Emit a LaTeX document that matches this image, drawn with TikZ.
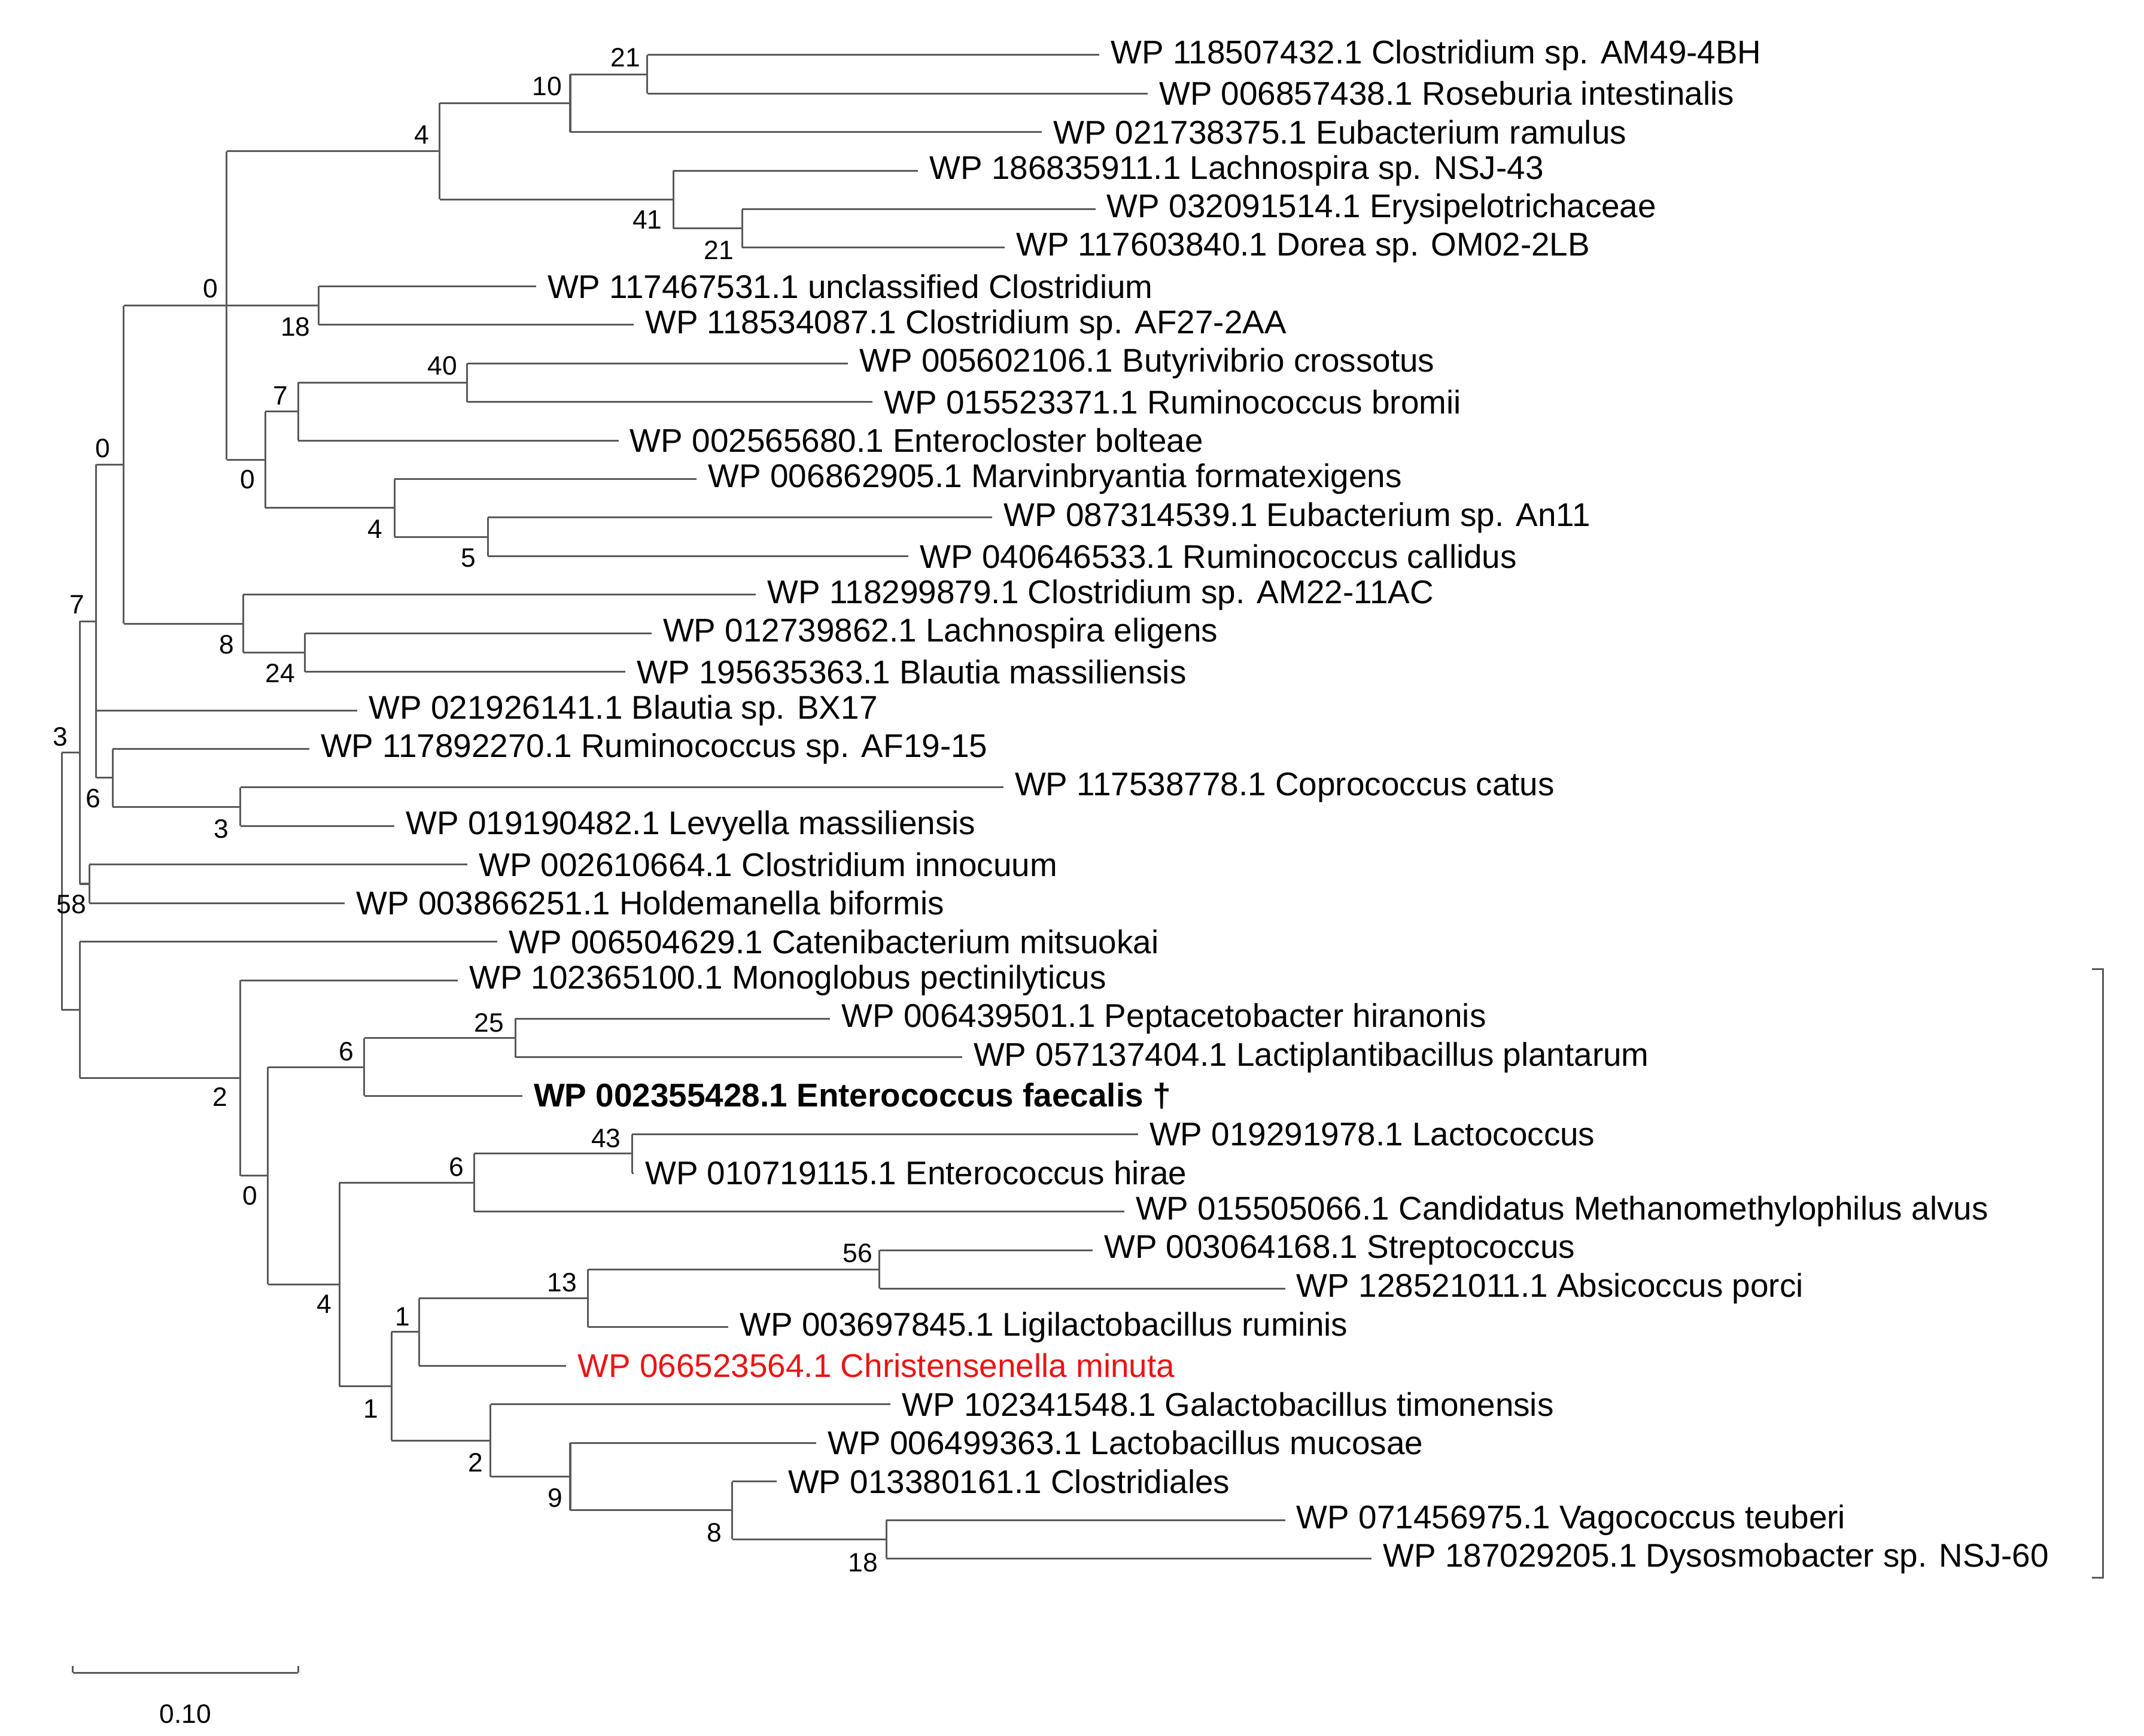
\documentclass[tikz,border=0pt]{standalone}
\usepackage{fontspec}
\setmainfont{Liberation Sans}
\usetikzlibrary{calc}
\definecolor{brc}{RGB}{90,90,90}
\definecolor{myred}{RGB}{235,20,20}
\newcommand\inode[4]{\path let \p1=(#3),\p2=(#4) in coordinate (#1) at ({#2*0.5690551pt},{(\y1+\y2)/2});}
\newcommand\kids[2]{\draw[br] (#1|-#2) -- (#2);}
\newcommand\vbar[3]{\draw[br] (#1|-#2) -- (#1|-#3);}
\newcommand\ry[1]{{40+28.05*#1}}
\begin{document}
\begin{tikzpicture}[x=0.02cm,y=-0.02cm,
  br/.style={draw=brc,line width=0.75pt},
  leaf/.style={anchor=west,inner xsep=4.6pt,inner ysep=0pt,font=\fontsize{13.6}{15}\selectfont},
  bs/.style={font=\fontsize{11}{12}\selectfont,inner sep=0pt}]
\useasboundingbox (0,0) rectangle (1560,1263);
% leaves
\node[leaf] (t0) at (800,\ry{0}) {WP 118507432.1 Clostridium sp. AM49-4BH};
\node[leaf] (t1) at (835,\ry{1}) {WP 006857438.1 Roseburia intestinalis};
\node[leaf] (t2) at (758,\ry{2}) {WP 021738375.1 Eubacterium ramulus};
\node[leaf] (t3) at (668,\ry{3}) {WP 186835911.1 Lachnospira sp. NSJ-43};
\node[leaf] (t4) at (797,\ry{4}) {WP 032091514.1 Erysipelotrichaceae};
\node[leaf] (t5) at (731,\ry{5}) {WP 117603840.1 Dorea sp. OM02-2LB};
\node[leaf] (t6) at (390,\ry{6}) {WP 117467531.1 unclassified Clostridium};
\node[leaf] (t7) at (461,\ry{7}) {WP 118534087.1 Clostridium sp. AF27-2AA};
\node[leaf] (t8) at (617,\ry{8}) {WP 005602106.1 Butyrivibrio crossotus};
\node[leaf] (t9) at (635,\ry{9}) {WP 015523371.1 Ruminococcus bromii};
\node[leaf] (t10) at (450,\ry{10}) {WP 002565680.1 Enterocloster bolteae};
\node[leaf] (t11) at (507,\ry{11}) {WP 006862905.1 Marvinbryantia formatexigens};
\node[leaf] (t12) at (722,\ry{12}) {WP 087314539.1 Eubacterium sp. An11};
\node[leaf] (t13) at (661,\ry{13}) {WP 040646533.1 Ruminococcus callidus};
\node[leaf] (t14) at (550,\ry{14}) {WP 118299879.1 Clostridium sp. AM22-11AC};
\node[leaf] (t15) at (474,\ry{15}) {WP 012739862.1 Lachnospira eligens};
\node[leaf] (t16) at (455,\ry{16}) {WP 195635363.1 Blautia massiliensis};
\node[leaf] (t17) at (260,\ry{17}) {WP 021926141.1 Blautia sp. BX17};
\node[leaf] (t18) at (225,\ry{18}) {WP 117892270.1 Ruminococcus sp. AF19-15};
\node[leaf] (t19) at (730,\ry{19}) {WP 117538778.1 Coprococcus catus};
\node[leaf] (t20) at (287,\ry{20}) {WP 019190482.1 Levyella massiliensis};
\node[leaf] (t21) at (340,\ry{21}) {WP 002610664.1 Clostridium innocuum};
\node[leaf] (t22) at (251,\ry{22}) {WP 003866251.1 Holdemanella biformis};
\node[leaf] (t23) at (362,\ry{23}) {WP 006504629.1 Catenibacterium mitsuokai};
\node[leaf] (t24) at (333,\ry{24}) {WP 102365100.1 Monoglobus pectinilyticus};
\node[leaf] (t25) at (604,\ry{25}) {WP 006439501.1 Peptacetobacter hiranonis};
\node[leaf] (t26) at (700,\ry{26}) {WP 057137404.1 Lactiplantibacillus plantarum};
\node[leaf,font=\fontsize{13.6}{15}\selectfont\bfseries] (t27) at (380,\ry{27}) {WP 002355428.1 Enterococcus faecalis †};
\node[leaf] (t28) at (828,\ry{28}) {WP 019291978.1 Lactococcus};
\node[leaf] (t29) at (461,\ry{29}) {WP 010719115.1 Enterococcus hirae};
\node[leaf] (t30) at (818,\ry{30}) {WP 015505066.1 Candidatus Methanomethylophilus alvus};
\node[leaf] (t31) at (795,\ry{31}) {WP 003064168.1 Streptococcus};
\node[leaf] (t32) at (935,\ry{32}) {WP 128521011.1 Absicoccus porci};
\node[leaf] (t33) at (530,\ry{33}) {WP 003697845.1 Ligilactobacillus ruminis};
\node[leaf,text=myred] (t34) at (412,\ry{34}) {WP 066523564.1 Christensenella minuta};
\node[leaf] (t35) at (648,\ry{35}) {WP 102341548.1 Galactobacillus timonensis};
\node[leaf] (t36) at (594,\ry{36}) {WP 006499363.1 Lactobacillus mucosae};
\node[leaf] (t37) at (565,\ry{37}) {WP 013380161.1 Clostridiales};
\node[leaf] (t38) at (935,\ry{38}) {WP 071456975.1 Vagococcus teuberi};
\node[leaf] (t39) at (998,\ry{39}) {WP 187029205.1 Dysosmobacter sp. NSJ-60};
% internal nodes
\inode{A}{471}{t0.west}{t1.west}
\inode{B}{415}{A}{t2.west}
\inode{D}{540}{t4.west}{t5.west}
\inode{C}{490}{t3.west}{D}
\inode{E}{320}{B}{C}
\inode{F}{232}{t6.west}{t7.west}
\inode{G}{340}{t8.west}{t9.west}
\inode{H}{217}{G}{t10.west}
\inode{I}{355}{t12.west}{t13.west}
\inode{J}{287}{t11.west}{I}
\inode{K}{193}{H}{J}
\inode{L}{165}{E}{K}
\inode{O}{222}{t15.west}{t16.west}
\inode{N}{177}{t14.west}{O}
\inode{M}{90}{L}{N}
\inode{R}{175}{t19.west}{t20.west}
\inode{Q}{82}{t18.west}{R}
\inode{P}{70}{M}{Q}
\inode{T}{65}{t21.west}{t22.west}
\inode{S}{58}{P}{T}
\inode{Y}{375}{t25.west}{t26.west}
\inode{Z}{265}{Y}{t27.west}
\inode{a}{460}{t28.west}{t29.west}
\inode{b}{345}{a}{t30.west}
\inode{c}{640}{t31.west}{t32.west}
\inode{d}{428}{c}{t33.west}
\inode{e}{305}{d}{t34.west}
\inode{f}{645}{t38.west}{t39.west}
\inode{g}{533}{t37.west}{f}
\inode{h}{415}{t36.west}{g}
\inode{i}{357}{t35.west}{h}
\inode{j}{285}{e}{i}
\inode{k}{247}{b}{j}
\inode{X}{195}{Z}{k}
\inode{W}{175}{t24.west}{X}
\inode{V}{58}{t23.west}{W}
\inode{root}{45}{S}{V}
% branches
\vbar{A}{t0.west}{t1.west}\kids{A}{t0.west}\kids{A}{t1.west}
\vbar{B}{A}{t2.west}\kids{B}{A}\kids{B}{t2.west}
\vbar{D}{t4.west}{t5.west}\kids{D}{t4.west}\kids{D}{t5.west}
\vbar{C}{t3.west}{D}\kids{C}{t3.west}\kids{C}{D}
\vbar{E}{B}{C}\kids{E}{B}\kids{E}{C}
\vbar{F}{t6.west}{t7.west}\kids{F}{t6.west}\kids{F}{t7.west}
\vbar{G}{t8.west}{t9.west}\kids{G}{t8.west}\kids{G}{t9.west}
\vbar{H}{G}{t10.west}\kids{H}{G}\kids{H}{t10.west}
\vbar{I}{t12.west}{t13.west}\kids{I}{t12.west}\kids{I}{t13.west}
\vbar{J}{t11.west}{I}\kids{J}{t11.west}\kids{J}{I}
\vbar{K}{H}{J}\kids{K}{H}\kids{K}{J}
\vbar{L}{E}{K}\kids{L}{E}\kids{L}{F}\kids{L}{K}
\vbar{O}{t15.west}{t16.west}\kids{O}{t15.west}\kids{O}{t16.west}
\vbar{N}{t14.west}{O}\kids{N}{t14.west}\kids{N}{O}
\vbar{M}{L}{N}\kids{M}{L}\kids{M}{N}
\vbar{R}{t19.west}{t20.west}\kids{R}{t19.west}\kids{R}{t20.west}
\vbar{Q}{t18.west}{R}\kids{Q}{t18.west}\kids{Q}{R}
\vbar{P}{M}{Q}\kids{P}{M}\kids{P}{t17.west}\kids{P}{Q}
\vbar{T}{t21.west}{t22.west}\kids{T}{t21.west}\kids{T}{t22.west}
\vbar{S}{P}{T}\kids{S}{P}\kids{S}{T}
\vbar{Y}{t25.west}{t26.west}\kids{Y}{t25.west}\kids{Y}{t26.west}
\vbar{Z}{Y}{t27.west}\kids{Z}{Y}\kids{Z}{t27.west}
\vbar{a}{t28.west}{t29.west}\kids{a}{t28.west}\kids{a}{t29.west}
\vbar{b}{a}{t30.west}\kids{b}{a}\kids{b}{t30.west}
\vbar{c}{t31.west}{t32.west}\kids{c}{t31.west}\kids{c}{t32.west}
\vbar{d}{c}{t33.west}\kids{d}{c}\kids{d}{t33.west}
\vbar{e}{d}{t34.west}\kids{e}{d}\kids{e}{t34.west}
\vbar{f}{t38.west}{t39.west}\kids{f}{t38.west}\kids{f}{t39.west}
\vbar{g}{t37.west}{f}\kids{g}{t37.west}\kids{g}{f}
\vbar{h}{t36.west}{g}\kids{h}{t36.west}\kids{h}{g}
\vbar{i}{t35.west}{h}\kids{i}{t35.west}\kids{i}{h}
\vbar{j}{e}{i}\kids{j}{e}\kids{j}{i}
\vbar{k}{b}{j}\kids{k}{b}\kids{k}{j}
\vbar{X}{Z}{k}\kids{X}{Z}\kids{X}{k}
\vbar{W}{t24.west}{X}\kids{W}{t24.west}\kids{W}{X}
\vbar{V}{t23.west}{W}\kids{V}{t23.west}\kids{V}{W}
\vbar{root}{S}{V}\kids{root}{S}\kids{root}{V}
% bootstrap labels
\foreach \lx/\ly/\lt in {455/42/21,398/63/10,307/98/4,471/160/41,523/182/21,153/210/0,215/238/18,
  322/266/40,204/288/7,180/349/0,273/385/4,341/406/5,75/326/0,165/469/8,204/490/24,56/440/7,
  44/536/3,68/581/6,161/603/3,52/658/58,356/744/25,252/765/6,160/798/2,441/828/43,332/849/6,
  182/870/0,624/912/56,409/933/13,236/949/4,293/958/1,270/1025/1,346/1064/2,404/1090/9,
  520/1115/8,628/1137/18}
  \node[bs] at (\lx,\ly) {\lt};
% bracket
\coordinate (bt) at (1530,705);
\coordinate (bb) at (1530,1148);
\draw[br] ([xshift=-0.16cm]bt) -- (bt) -- (bb) -- ([xshift=-0.16cm]bb);
% scale bar
\coordinate (s1) at (53,1217);
\coordinate (s2) at (217,1217);
\draw[br] (s1) -- (s2);
\draw[br] (s1) -- ++(0,-5);
\draw[br] (s2) -- ++(0,-5);
\node[bs] (sl) at (135,1247) {0.10};
\end{tikzpicture}
\end{document}
